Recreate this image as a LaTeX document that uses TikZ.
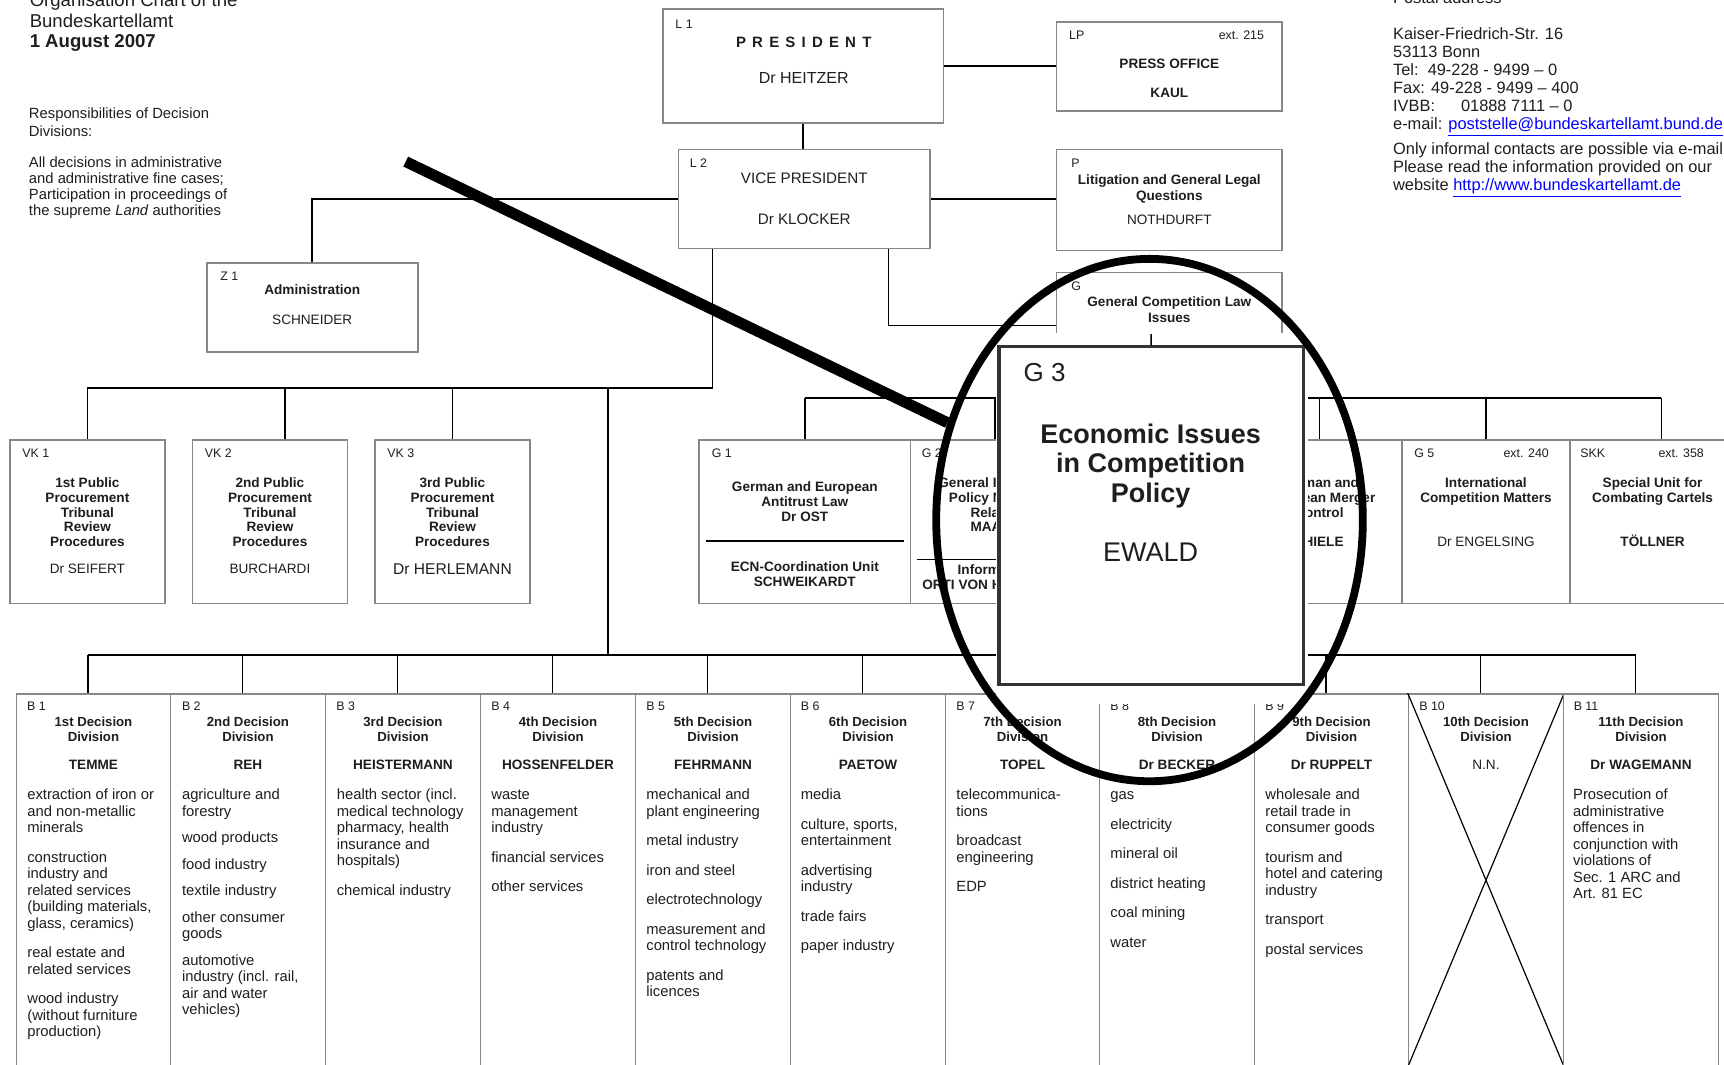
\documentclass[tikz,border=0pt]{standalone}
\usepackage{fontspec}
\setmainfont{Liberation Sans}
\usetikzlibrary{positioning,fit,shapes.geometric}
\definecolor{FrameGray}{RGB}{135,135,135}
\definecolor{InkGray}{RGB}{30,30,30}
\definecolor{LinkBlue}{RGB}{0,0,255}

\begin{document}
\begin{tikzpicture}[x=0.55pt,y=-0.55pt,
    office/.style={draw=FrameGray,line width=0.8pt,inner sep=0pt},
    tie/.style={draw=black,line width=0.8pt},
    tag/.style={font=\fontsize{6.2}{7}\selectfont,text=InkGray,anchor=base west,inner sep=0pt},
    ext/.style={tag,anchor=base east},
    unittitle/.style={font=\fontsize{6.8}{7.4}\selectfont\bfseries,text=InkGray,align=center,anchor=north,inner sep=0pt},
    who/.style={font=\fontsize{6.8}{8}\selectfont,text=InkGray,anchor=base,inner sep=0pt},
    chief/.style={font=\fontsize{6.8}{8}\selectfont\bfseries,text=InkGray,anchor=base,inner sep=0pt},
    head/.style={font=\fontsize{6.6}{7.4}\selectfont\bfseries,text=InkGray,align=center,anchor=north,inner sep=0pt},
    items/.style={font=\fontsize{7.4}{8.25}\selectfont,text=InkGray,align=left,anchor=north west,inner sep=0pt},
    note/.style={font=\fontsize{7.4}{8}\selectfont,text=InkGray,align=left,anchor=north west,inner sep=0pt},
    lensbox/.style={draw=black!80,line width=1.6pt,inner sep=0pt,fill=white},
    lens/.style={draw=black,ellipse,line width=3.9pt,minimum width=213.4pt,minimum height=261.3pt,inner sep=0pt},
    pointer/.style={draw=black,line width=5.5pt}
  ]
  \useasboundingbox (0,0) rectangle (1568,968);
  \clip (0,0) rectangle (1568,968);
  \fill[white] (0,0) rectangle (1568,968);

  % heading and address
  \node[note,font=\fontsize{9.3}{10.3}\selectfont] (chartTitle) at (26.7,-7.6)
    {\strut Organisation Chart of the\\Bundeskartellamt\\\textbf{1 August 2007}};
  \node[note,font=\fontsize{7.4}{7.5}\selectfont] (remit) at (26,98)
    {\strut Responsibilities of Decision\\Divisions:};
  \node[note] (duties) at (26,141.4)
    {\strut All decisions in administrative\\and administrative fine cases;\\Participation in proceedings of\\the supreme \textit{Land} authorities};
  \node[note,font=\fontsize{8.2}{9}\selectfont] (postal) at (1266.7,-9)
    {\strut Postal address\\[9pt]Kaiser-Friedrich-Str. 16\\53113 Bonn\\Tel:\ \ 49-228 - 9499 – 0\\Fax: 49-228 - 9499 – 400\\IVBB:\hspace{13pt}01888 7111 – 0\\e-mail: \textcolor{LinkBlue}{\underline{poststelle@bundeskartellamt.bund.de}}\\[1.9pt]Only informal contacts are possible via e-mail.\\Please read the information provided on our\\website \textcolor{LinkBlue}{\underline{http://www.bundeskartellamt.de}}};

  % management
  \node[office,fit={(603,8) (858,112)}] (pres) {};
  \node[tag] (presTag) at (614,26) {L 1};
  \node[chief,font=\fontsize{7.5}{9}\selectfont\bfseries] (presRole) at (731,43) {\spaceskip=3.1pt\relax P R E S I D E N T};
  \node[who,font=\fontsize{8}{9}\selectfont] (presName) at (731,75.5) {Dr HEITZER};

  \node[office,fit={(961,20) (1166,101)}] (press) {};
  \node[tag] (pressTag) at (972,36) {LP};
  \node[ext] (pressExt) at (1150,36) {ext. 215};
  \node[chief] (pressRole) at (1063.5,62) {PRESS OFFICE};
  \node[chief] (pressName) at (1063.5,89) {KAUL};

  \node[office,fit={(617,136) (846,226)}] (vp) {};
  \node[tag] (vpTag) at (627,152) {L 2};
  \node[who,font=\fontsize{7.6}{9}\selectfont] (vpRole) at (731.5,166.5) {VICE PRESIDENT};
  \node[who,font=\fontsize{7.6}{9}\selectfont] (vpName) at (731.5,204.5) {Dr KLOCKER};

  \node[office,fit={(961,136) (1166,228)}] (lit) {};
  \node[tag] (litTag) at (974,152) {P};
  \node[unittitle,font=\fontsize{6.8}{6.4}\selectfont\bfseries] (litRole) at (1063.5,158.9)
    {\strut Litigation and General Legal\\Questions};
  \node[who] (litName) at (1063.5,204) {NOTHDURFT};

  \node[office,fit={(961,248) (1166,330)}] (gen) {};
  \node[tag] (genTag) at (974,264) {G};
  \node[unittitle,font=\fontsize{6.8}{6.4}\selectfont\bfseries] (genRole) at (1063.5,269.9)
    {\strut General Competition Law\\Issues};

  \node[office,fit={(188,239) (380,320)}] (z1) {};
  \node[tag] (z1Tag) at (200,255) {Z 1};
  \node[chief] (z1Role) at (284,268) {Administration};
  \node[who] (z1Name) at (284,295) {SCHNEIDER};

  % public procurement tribunals
  \node[office,fit={(9,400) (150,549)}] (vk1) {};
  \node[tag] (vk1Tag) at (20,416) {VK 1};
  \node[unittitle] (vk1Role) at (79.5,433.6) {\strut 1st Public\\Procurement\\Tribunal\\Review\\Procedures};
  \node[who] (vk1Name) at (79.5,522) {Dr SEIFERT};

  \node[office,fit={(175,400) (316,549)}] (vk2) {};
  \node[tag] (vk2Tag) at (186,416) {VK 2};
  \node[unittitle] (vk2Role) at (245.5,433.6) {\strut 2nd Public\\Procurement\\Tribunal\\Review\\Procedures};
  \node[who] (vk2Name) at (245.5,522) {BURCHARDI};

  \node[office,fit={(341,400) (482,549)}] (vk3) {};
  \node[tag] (vk3Tag) at (352,416) {VK 3};
  \node[unittitle] (vk3Role) at (411.5,433.6) {\strut 3rd Public\\Procurement\\Tribunal\\Review\\Procedures};
  \node[who,font=\fontsize{7.8}{9}\selectfont] (vk3Name) at (411.5,522.5) {Dr HERLEMANN};

  % general competition units
  \node[office,fit={(636,400) (828,549)}] (g1) {};
  \node[tag] (g1Tag) at (647,416) {G 1};
  \node[unittitle] (g1Role) at (732,437.6) {\strut German and European\\Antitrust Law\\Dr OST};
  \draw[line width=0.8pt] (642,492) -- (822,492);
  \node[unittitle] (g1Unit) at (732,510) {\strut ECN-Coordination Unit\\SCHWEIKARDT};

  \node[office,fit={(828,400) (982,549)}] (g2) {};
  \node[tag] (g2Tag) at (838,416) {G 2};
  \node[unittitle] (g2Role) at (905,433.6) {\strut General Issues of\\Policy Matters\\Related\\MAASS};
  \draw[line width=0.8pt] (834,509) -- (976,509);
  \node[unittitle] (g2Unit) at (905,512.6) {\strut Information\\ORTI VON HAVRANEK};

  \node[office,fit={(1125,400) (1275,549)}] (g4) {};
  \node[unittitle] (g4Role) at (1200,433.6) {\strut German and\\European Merger\\Control};
  \node[chief] (g4Name) at (1200,497) {THIELE};

  \node[office,fit={(1275,400) (1428,549)}] (g5) {};
  \node[tag] (g5Tag) at (1286,416) {G 5};
  \node[ext] (g5Ext) at (1409,416) {ext. 240};
  \node[unittitle] (g5Role) at (1351.5,433.6) {\strut International\\Competition Matters};
  \node[who] (g5Name) at (1351.5,497) {Dr ENGELSING};

  \node[office,fit={(1428,400) (1578,549)}] (skk) {};
  \node[tag] (skkTag) at (1437,416) {SKK};
  \node[ext] (skkExt) at (1550,416) {ext. 358};
  \node[unittitle] (skkRole) at (1503,433.6) {\strut Special Unit for\\Combating Cartels};
  \node[chief] (skkName) at (1503,497) {TÖLLNER};

  % decision divisions
  \node[office,fit={(15,631) (155,970)}] (b1) {};
  \node[tag] (b1Tag) at (24.3,646.3) {B 1};
  \node[head] (b1Head) at (85,650.9) {\strut 1st Decision\\Division};
  \node[chief] (b1Name) at (85,700.3) {TEMME};
  \node[items] (b1Items) at (24.5,716.5) {\strut extraction of iron or\\and non-metallic\\minerals\\[6.5pt]construction\\industry and\\related services\\(building materials,\\glass, ceramics)\\[6.5pt]real estate and\\related services\\[6.5pt]wood industry\\(without furniture\\production)};

  \node[office,fit={(155,631) (296,970)}] (b2) {};
  \node[tag] (b2Tag) at (165.2,646.3) {B 2};
  \node[head] (b2Head) at (225.5,650.9) {\strut 2nd Decision\\Division};
  \node[chief] (b2Name) at (225.5,700.3) {REH};
  \node[items] (b2Items) at (165.2,716.5) {\strut agriculture and\\forestry\\[5pt]wood products\\[5pt]food industry\\[5pt]textile industry\\[5pt]other consumer\\goods\\[5pt]automotive\\industry (incl. rail,\\air and water\\vehicles)};

  \node[office,fit={(296,631) (437,970)}] (b3) {};
  \node[tag] (b3Tag) at (305.5,646.3) {B 3};
  \node[head] (b3Head) at (366.5,650.9) {\strut 3rd Decision\\Division};
  \node[chief] (b3Name) at (366.5,700.3) {HEISTERMANN};
  \node[items] (b3Items) at (306,716.5) {\strut health sector (incl.\\medical technology\\pharmacy, health\\insurance and\\hospitals)\\[6.5pt]chemical industry};

  \node[office,fit={(437,631) (578,970)}] (b4) {};
  \node[tag] (b4Tag) at (446.5,646.3) {B 4};
  \node[head] (b4Head) at (507.5,650.9) {\strut 4th Decision\\Division};
  \node[chief] (b4Name) at (507.5,700.3) {HOSSENFELDER};
  \node[items] (b4Items) at (446.5,716.5) {\strut waste\\management\\industry\\[6.5pt]financial services\\[6.5pt]other services};

  \node[office,fit={(578,631) (719,970)}] (b5) {};
  \node[tag] (b5Tag) at (587.5,646.3) {B 5};
  \node[head] (b5Head) at (648.5,650.9) {\strut 5th Decision\\Division};
  \node[chief] (b5Name) at (648.5,700.3) {FEHRMANN};
  \node[items] (b5Items) at (587.5,716.5) {\strut mechanical and\\plant engineering\\[6.5pt]metal industry\\[6.5pt]iron and steel\\[6.5pt]electrotechnology\\[6.5pt]measurement and\\control technology\\[6.5pt]patents and\\licences};

  \node[office,fit={(719,631) (860,970)}] (b6) {};
  \node[tag] (b6Tag) at (728,646.3) {B 6};
  \node[head] (b6Head) at (789.5,650.9) {\strut 6th Decision\\Division};
  \node[chief] (b6Name) at (789.5,700.3) {PAETOW};
  \node[items] (b6Items) at (728,716.5) {\strut media\\[6.5pt]culture, sports,\\entertainment\\[6.5pt]advertising\\industry\\[6.5pt]trade fairs\\[6.5pt]paper industry};

  \node[office,fit={(860,631) (1000,970)}] (b7) {};
  \node[tag] (b7Tag) at (869.5,646.3) {B 7};
  \node[head] (b7Head) at (930,650.9) {\strut 7th Decision\\Division};
  \node[chief] (b7Name) at (930,700.3) {TOPEL};
  \node[items] (b7Items) at (869.5,716.5) {\strut telecommunica-\\tions\\[6.5pt]broadcast\\engineering\\[6.5pt]EDP};

  \node[office,fit={(1000,631) (1141,970)}] (b8) {};
  \node[tag] (b8Tag) at (1009.5,646.3) {B 8};
  \node[head] (b8Head) at (1070.5,650.9) {\strut 8th Decision\\Division};
  \node[chief] (b8Name) at (1070.5,700.3) {Dr BECKER};
  \node[items] (b8Items) at (1009.6,716.5) {\strut gas\\[6.5pt]electricity\\[6.5pt]mineral oil\\[6.5pt]district heating\\[6.5pt]coal mining\\[6.5pt]water};

  \node[office,fit={(1141,631) (1281,970)}] (b9) {};
  \node[tag] (b9Tag) at (1150.5,646.3) {B 9};
  \node[head] (b9Head) at (1211,650.9) {\strut 9th Decision\\Division};
  \node[chief] (b9Name) at (1211,700.3) {Dr RUPPELT};
  \node[items] (b9Items) at (1150.5,716.5) {\strut wholesale and\\retail trade in\\consumer goods\\[6.5pt]tourism and\\hotel and catering\\industry\\[6.5pt]transport\\[6.5pt]postal services};

  \node[office,fit={(1281,631) (1422,970)}] (b10) {};
  \draw[line width=0.6pt] (b10.north west) -- (b10.south east);
  \draw[line width=0.6pt] (b10.north east) -- (b10.south west);
  \node[tag] (b10Tag) at (1290.5,646.3) {B 10};
  \node[head] (b10Head) at (1351.5,650.9) {\strut 10th Decision\\Division};
  \node[who] (b10Name) at (1351.5,700.3) {N.N.};

  \node[office,fit={(1422,631) (1563,970)}] (b11) {};
  \node[tag] (b11Tag) at (1431,646.3) {B 11};
  \node[head] (b11Head) at (1492.5,650.9) {\strut 11th Decision\\Division};
  \node[chief] (b11Name) at (1492.5,700.3) {Dr WAGEMANN};
  \node[items] (b11Items) at (1430.4,716.5) {\strut Prosecution of\\administrative\\offences in\\conjunction with\\violations of\\Sec. 1 ARC and\\Art. 81 EC};

  % lines of the chart
  \draw[tie] (pres.south) -- (pres.south |- vp.north);
  \draw[tie] (pres.east) -- (pres.east -| press.west);
  \draw[tie] (vp.east) -- (vp.east -| lit.west);
  \draw[tie] (vp.west) -| (z1.north);
  \coordinate (gturn) at (808,296);
  \draw[tie] (vp.south -| gturn) -- (gturn) -- (gturn -| gen.west);
  \coordinate (vkbus) at (648,353);
  \draw[tie] (vp.south -| vkbus) -- (vkbus) -- (vkbus -| vk1.north) -- (vk1.north);
  \draw[tie] ([xshift=7.4pt]vk2.north) -- ([xshift=7.4pt]vk2.north |- vkbus);
  \draw[tie] (vk3.north) -- (vk3.north |- vkbus);
  \coordinate (bbus) at (553,596);
  \draw[tie] (vkbus -| bbus) -- (bbus);
  \draw[tie] ([xshift=-2.75pt]b1.north |- bbus) -- ([xshift=-2.75pt]b11.north |- bbus);
  \foreach \b in {b1,b2,b3,b4,b5,b6,b7,b8,b9,b10,b11}
    \draw[tie] ([xshift=-2.75pt]\b.north) -- ([xshift=-2.75pt]\b.north |- bbus);
  \coordinate (gbus) at (1043,362);
  \draw[tie] (gen.south) -- (gen.south |- gbus);
  \draw[tie] (g1.north |- gbus) -- ([xshift=4.4pt]skk.north |- gbus);
  \foreach \g in {g1,g2,g4,g5}
    \draw[tie] (\g.north) -- (\g.north |- gbus);
  \draw[tie] ([xshift=4.4pt]skk.north) -- ([xshift=4.4pt]skk.north |- gbus);

  % enlarged G 3 inset
  \fill[white] (906,303) rectangle (1190,640);
  \node[lensbox,fit={(908.5,315.5) (1185.5,622.5)}] (g3) {};
  \coordinate (g3stub) at (1047,304);
  \draw[tie] (g3.north) -- (g3stub);
  \node[font=\fontsize{13}{15}\selectfont,text=InkGray,anchor=base west,inner sep=0pt] (g3Tag) at (930.6,347) {G 3};
  \node[font=\fontsize{13.5}{14.85}\selectfont\bfseries,text=InkGray,align=center,anchor=north,inner sep=0pt] (g3Role) at (1046.5,383.7)
    {\strut Economic Issues\\in Competition\\Policy};
  \node[font=\fontsize{13.5}{16}\selectfont,text=InkGray,anchor=base,inner sep=0pt] (g3Name) at (1046.5,510.8) {EWALD};

  \node[lens] (lensRing) at (1045.5,473) {};
  \coordinate (ptail) at (369,147);
  \draw[pointer] (ptail) -- (lensRing);
\end{tikzpicture}
\end{document}
